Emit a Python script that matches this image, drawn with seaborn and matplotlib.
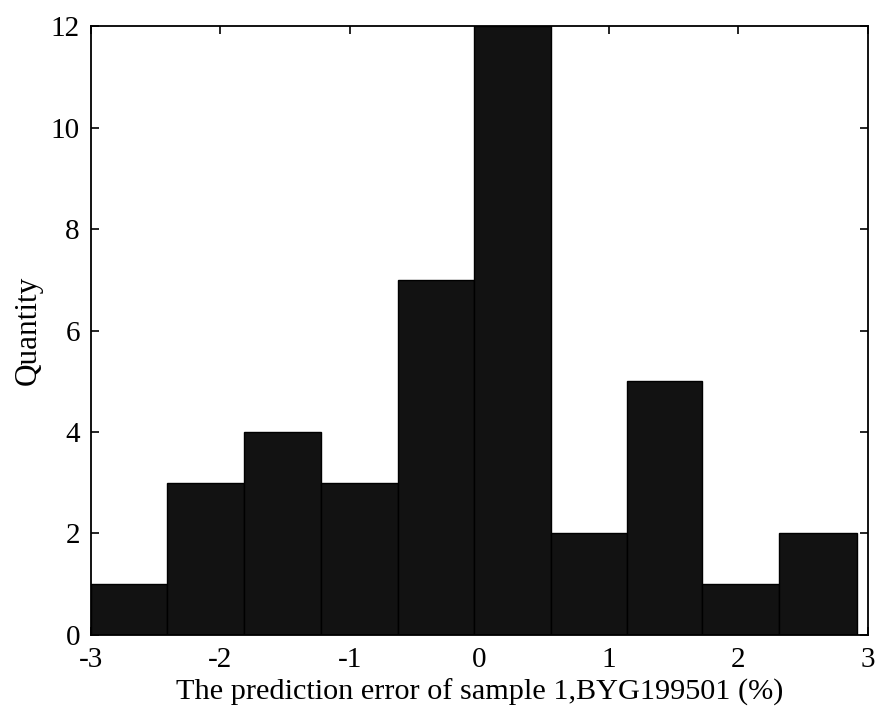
import matplotlib
matplotlib.use("Agg")
import matplotlib.pyplot as plt
import seaborn as sns
import numpy as np

# Data
bin_edges = [-3.0, -2.41, -1.82, -1.22, -0.63, -0.04, 0.555, 1.143, 1.723, 2.316, 2.922]
counts = [1, 3, 4, 3, 7, 12, 2, 5, 1, 2]
x_ticks = [-3, -2, -1, 0, 1, 2, 3]
y_ticks = [0, 2, 4, 6, 8, 10, 12]
x_label = "The prediction error of sample 1,BYG199501 (%)"
y_label = "Quantity"

sns.set_theme(style="white")
plt.rcParams['font.family'] = ['Liberation Serif', 'DejaVu Serif']

fig = plt.figure(figsize=(8.76, 7.11), dpi=100)
ax = fig.add_axes([0.1039, 0.1069, 0.8864, 0.8565])

centers = [(bin_edges[i] + bin_edges[i + 1]) / 2 for i in range(len(counts))]
sns.histplot(x=centers, weights=counts, bins=bin_edges, ax=ax,
             color="#121212", edgecolor="black", linewidth=1.0, alpha=1.0)

ax.set_xlim(-3, 3)
ax.set_ylim(0, 12)
ax.set_xticks(x_ticks)
ax.set_yticks(y_ticks)
ax.set_xticklabels([str(t) for t in x_ticks])
ax.set_yticklabels([str(t) for t in y_ticks])
ax.tick_params(direction="in", length=6, width=1.2, top=True, right=True,
               bottom=True, left=True, labelsize=21, colors="black")
ax.tick_params(axis="x", pad=9)
ax.tick_params(axis="y", pad=8)
for s in ax.spines.values():
    s.set_color("black")
    s.set_linewidth(1.3)
ax.set_xlabel(x_label, fontsize=21.8, color="black", labelpad=4)
ax.set_ylabel(y_label, fontsize=22.5, color="black", labelpad=6)
ax.grid(False)

fig.savefig("out.png", dpi=100)
